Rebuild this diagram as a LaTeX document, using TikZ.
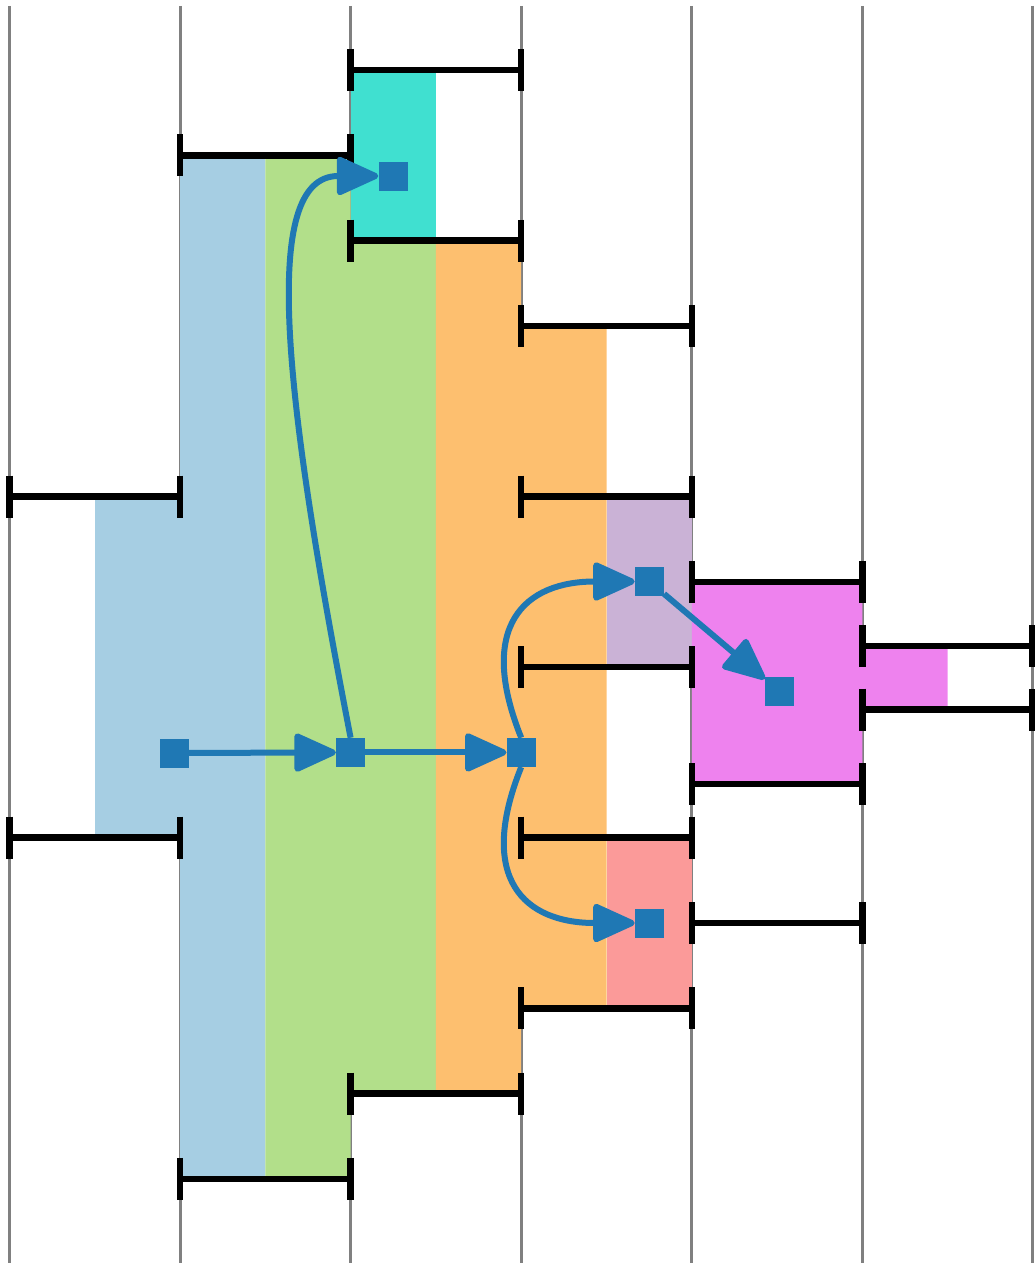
\documentclass[tikz,border=0pt]{standalone}
\usepackage{tikz}
\usetikzlibrary{arrows.meta}
\pgfdeclarelayer{front}
\pgfsetlayers{main,front}
\definecolor{linkblue}{HTML}{1F78B4}
\definecolor{paleblue}{HTML}{A6CEE3}
\definecolor{palegreen}{HTML}{B2DF8A}
\definecolor{turq}{HTML}{40E0D0}
\definecolor{paleorange}{HTML}{FDBF6F}
\definecolor{palepurple}{HTML}{CAB2D6}
\definecolor{palered}{HTML}{FB9A99}
\definecolor{violetpink}{HTML}{EE82EE}
\tikzset{
  rail/.style={draw=gray,line width=3pt},
  tbar/.style={draw=black,line width=6.5pt},
  blob/.style={fill=linkblue,inner sep=0pt,minimum size=29pt},
  link/.style={draw=linkblue,line width=6pt,-{Triangle[length=46pt,width=40pt,round]}}
}

\begin{document}
\begin{tikzpicture}[x=1pt,y=-1pt]
\useasboundingbox (0,0) rectangle (1034,1263);
% objects at depth 90:
\path[rail] (9.4,6) -- (9.4,1263);
\path[rail] (180,6) -- (180,1263);
\path[rail] (350.6,6) -- (350.6,1263);
\path[rail] (521.2,6) -- (521.2,1263);
\path[rail] (691.8,6) -- (691.8,1263);
\path[rail] (862.4,6) -- (862.4,1263);
\path[rail] (1032.6,6) -- (1032.6,1263);
% objects at depth 80:
\path[fill=paleblue] (180,155.3) -- (265.3,155.3) -- (265.3,1178.9) -- (180,1178.9) -- (180,837.7) -- (95,837.7) -- (95,496.5) -- (180,496.5) -- cycle;
\path[fill=palegreen] (265.3,155.3) -- (350.6,155.3) -- (350.6,240.6) -- (435.9,240.6) -- (435.9,1093.6) -- (350.6,1093.6) -- (350.6,1178.9) -- (265.3,1178.9) -- cycle;
\path[fill=turq] (350.6,70) rectangle (435.9,240.6);
\path[fill=paleorange] (435.9,240.6) -- (521.2,240.6) -- (521.2,325.9) -- (606.5,325.9) -- (606.5,1008.3) -- (521.2,1008.3) -- (521.2,1093.6) -- (435.9,1093.6) -- cycle;
\path[fill=palepurple] (606.5,496.5) rectangle (691.8,667.1);
\path[fill=palered] (606.5,837.7) rectangle (691.8,1008.3);
\path[fill=violetpink] (691.8,581.8) -- (862.4,581.8) -- (862.4,646) -- (947.7,646) -- (947.7,709.5) -- (862.4,709.5) -- (862.4,784) -- (691.8,784) -- cycle;
% objects at depth 70:
\path[tbar] (350.6,70) -- (521.2,70) (350.6,49) -- (350.6,91) (521.2,49) -- (521.2,91);
\path[tbar] (180,155.3) -- (350.6,155.3) (180,134.3) -- (180,176.3) (350.6,134.3) -- (350.6,176.3);
\path[tbar] (350.6,240.6) -- (521.2,240.6) (350.6,219.6) -- (350.6,261.6) (521.2,219.6) -- (521.2,261.6);
\path[tbar] (521.2,325.9) -- (691.8,325.9) (521.2,304.9) -- (521.2,346.9) (691.8,304.9) -- (691.8,346.9);
\path[tbar] (9.4,496.5) -- (180,496.5) (9.4,475.5) -- (9.4,517.5) (180,475.5) -- (180,517.5);
\path[tbar] (521.2,496.5) -- (691.8,496.5) (521.2,475.5) -- (521.2,517.5) (691.8,475.5) -- (691.8,517.5);
\path[tbar] (691.8,581.8) -- (862.4,581.8) (691.8,560.8) -- (691.8,602.8) (862.4,560.8) -- (862.4,602.8);
\path[tbar] (862.4,646) -- (1032.6,646) (862.4,625) -- (862.4,667) (1032.6,625) -- (1032.6,667);
\path[tbar] (521.2,667.1) -- (691.8,667.1) (521.2,646.1) -- (521.2,688.1) (691.8,646.1) -- (691.8,688.1);
\path[tbar] (862.4,709.5) -- (1032.6,709.5) (862.4,688.5) -- (862.4,730.5) (1032.6,688.5) -- (1032.6,730.5);
\path[tbar] (691.8,784) -- (862.4,784) (691.8,763) -- (691.8,805) (862.4,763) -- (862.4,805);
\path[tbar] (9.4,837.7) -- (180,837.7) (9.4,816.7) -- (9.4,858.7) (180,816.7) -- (180,858.7);
\path[tbar] (521.2,837.7) -- (691.8,837.7) (521.2,816.7) -- (521.2,858.7) (691.8,816.7) -- (691.8,858.7);
\path[tbar] (691.8,923) -- (862.4,923) (691.8,902) -- (691.8,944) (862.4,902) -- (862.4,944);
\path[tbar] (521.2,1008.3) -- (691.8,1008.3) (521.2,987.3) -- (521.2,1029.3) (691.8,987.3) -- (691.8,1029.3);
\path[tbar] (350.6,1093.6) -- (521.2,1093.6) (350.6,1072.6) -- (350.6,1114.6) (521.2,1072.6) -- (521.2,1114.6);
\path[tbar] (180,1178.9) -- (350.6,1178.9) (180,1157.9) -- (180,1199.9) (350.6,1157.9) -- (350.6,1199.9);
% objects at depth 10:
\begin{pgfonlayer}{front}
\node[blob] (src) at (174.5,753) {};
\node[blob] (mid) at (350.6,752.4) {};
\node[blob] (hub) at (521.2,752.4) {};
\node[blob] (top) at (393,176) {};
\node[blob] (up) at (649.4,581.5) {};
\node[blob] (far) at (779.5,691.5) {};
\node[blob] (down) at (649.4,923) {};
\end{pgfonlayer}
% objects at depth 20:
\path[link] (src) -- (mid);
\path[link] (mid) -- (hub);
\path[link] (mid.north) .. controls +(-66,-340) and +(-120,0) .. (top.west);
\path[link] (hub.north) .. controls +(-45,-112) and +(-110,0) .. (up.west);
\path[link] (hub.south) .. controls +(-45,112) and +(-110,0) .. (down.west);
\path[link] (up) -- (far);
\end{tikzpicture}
\end{document}
